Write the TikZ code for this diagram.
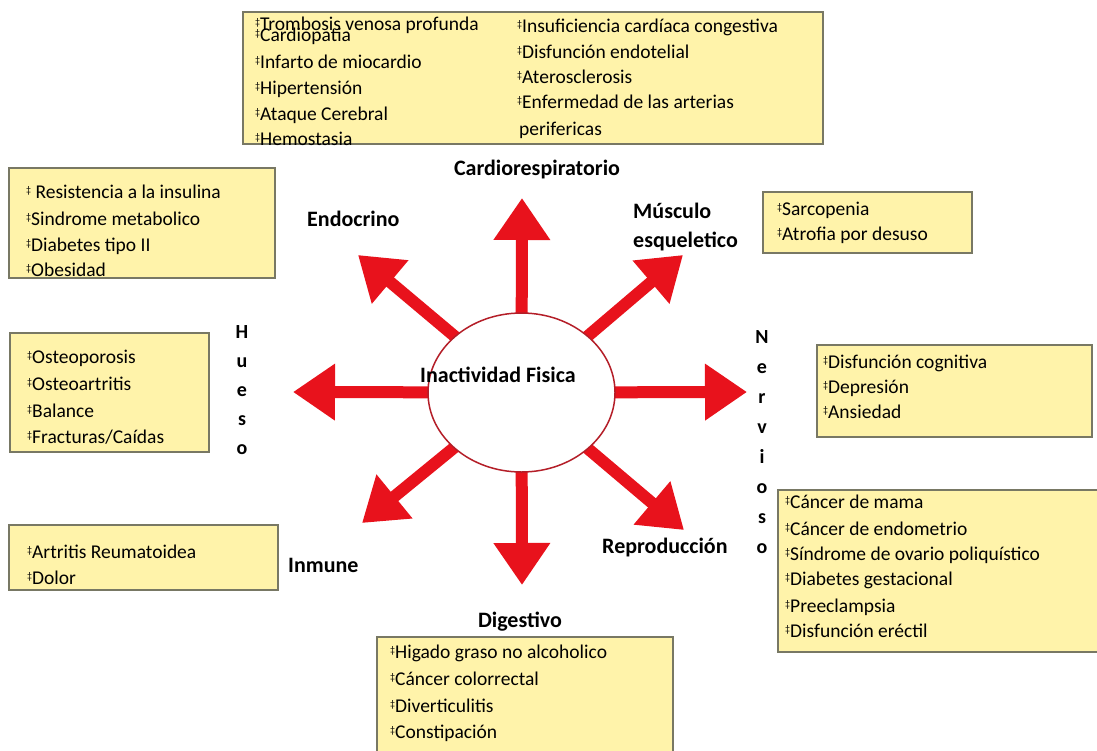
\documentclass[tikz,border=0pt]{standalone}
\usepackage{fontspec}
\setmainfont{Carlito}
\usetikzlibrary{arrows.meta,shapes.geometric}
\definecolor{boxfill}{RGB}{255,243,170}
\definecolor{boxline}{RGB}{120,120,100}
\definecolor{arrowred}{RGB}{232,18,28}
\definecolor{ellline}{RGB}{180,30,40}
\newcommand{\dg}{\raisebox{4.5pt}{\fontsize{10}{10}\selectfont ‡}}
\pgfdeclarelayer{bg}
\pgfsetlayers{bg,main}
\begin{document}
\begin{tikzpicture}[x=1pt,y=-1pt,
  box/.style={draw=boxline, fill=boxfill, line width=1.5pt, rectangle, inner sep=0pt},
  item/.style={anchor=base west, inner sep=0pt, font=\fontsize{19.5}{23}\selectfont},
  lbl/.style={inner sep=0pt, font=\fontsize{22}{26}\selectfont\bfseries},
  vlet/.style={anchor=base, inner sep=0pt, font=\fontsize{20}{24}\selectfont\bfseries},
  ray/.style={draw=arrowred, line width=12pt, shorten <=-8pt, -{Triangle[width=54pt,length=42pt]}},
]
\useasboundingbox (0,0) rectangle (1097,750);

% boxes
\node[box, minimum width=580pt, minimum height=132pt] (cardbox) at (533,78) {};
\node[box, minimum width=266pt, minimum height=110pt] (endobox) at (142,223) {};
\node[box, minimum width=209pt, minimum height=61pt] (musbox) at (867.5,222.5) {};
\node[box, minimum width=199pt, minimum height=119pt] (huebox) at (109.5,392.5) {};
\node[box, minimum width=275pt, minimum height=92pt] (nerbox) at (954.5,391) {};
\node[box, minimum width=324pt, minimum height=162pt] (repbox) at (940,571) {};
\node[box, minimum width=269pt, minimum height=65pt] (inmbox) at (143.5,557.5) {};
\node[box, minimum width=296pt, minimum height=117pt] (digbox) at (525,695.5) {};

% centre
\node[ellipse, draw=ellline, line width=1.5pt, fill=white, minimum width=187pt, minimum height=159pt, inner sep=0pt] (core) at (521.5,392.5) {};
\node[lbl, anchor=base west] (lcore) at (420,382) {Inactividad Fisica};

\coordinate (tN) at (522,198);
\coordinate (tS) at (522,585);
\coordinate (tW) at (293,392);
\coordinate (tE) at (747,392);
\coordinate (tNW) at (358,255);
\coordinate (tNE) at (683,255);
\coordinate (tSW) at (362,523);
\coordinate (tSE) at (684,530);

\begin{pgfonlayer}{bg}
\fill[white] (0,0) rectangle (1097,750);
\draw[ray] (core) -- (tN);
\draw[ray] (core) -- (tS);
\draw[ray] (core) -- (tW);
\draw[ray] (core) -- (tE);
\draw[ray] (core) -- (tNW);
\draw[ray] (core) -- (tNE);
\draw[ray] (core) -- (tSW);
\draw[ray] (core) -- (tSE);
\end{pgfonlayer}

% labels
\node[lbl, anchor=base] (lcard) at (537,175) {Cardiorespiratorio};
\node[lbl, anchor=base west] (lendo) at (307,226) {Endocrino};
\node[lbl, anchor=base west] (lmus1) at (633,218) {Músculo};
\node[lbl, anchor=base west] (lmus2) at (633,247) {esqueletico};
\node[lbl, anchor=base west] (lrep) at (602,553) {Reproducción};
\node[lbl, anchor=base west] (linm) at (288,572) {Inmune};
\node[lbl, anchor=base] (ldig) at (520,627) {Digestivo};

\foreach \ch [count=\i from 0] in {H,u,e,s,o}
  \node[vlet] (hue\i) at (242,{338+29*\i}) {\ch};
\foreach \ch [count=\i from 0] in {N,e,r,v,i,o,s,o}
  \node[vlet] (ner\i) at (762,{343+30*\i}) {\ch};

% cardiorespiratorio items
\node[item] (c1) at (255,30) {\dg Trombosis venosa profunda};
\node[item] (c2) at (255,41) {\dg Cardiopatia};
\node[item] (c3) at (255,68) {\dg Infarto de miocardio};
\node[item] (c4) at (255,94) {\dg Hipertensión};
\node[item] (c5) at (255,120) {\dg Ataque Cerebral};
\node[item] (c6) at (255,145) {\dg Hemostasia};
\node[item] (c7) at (517,32) {\dg Insuficiencia cardíaca congestiva};
\node[item] (c8) at (517,58) {\dg Disfunción endotelial};
\node[item] (c9) at (517,83) {\dg Aterosclerosis};
\node[item] (c10) at (517,108) {\dg Enfermedad de las arterias};
\node[item] (c11) at (519,135) {perifericas};

% endocrino items
\node[item] (e1) at (26,198) {\dg\ Resistencia a la insulina};
\node[item] (e2) at (26,225) {\dg Sindrome metabolico};
\node[item] (e3) at (26,251) {\dg Diabetes tipo II};
\node[item] (e4) at (26,276) {\dg Obesidad};

% musculo items
\node[item] (m1) at (777,215) {\dg Sarcopenia};
\node[item] (m2) at (777,240) {\dg Atrofia por desuso};

% hueso items
\node[item] (h1) at (27,363) {\dg Osteoporosis};
\node[item] (h2) at (27,390) {\dg Osteoartritis};
\node[item] (h3) at (27,417) {\dg Balance};
\node[item] (h4) at (27,443) {\dg Fracturas/Caídas};

% nervioso items
\node[item] (n1) at (823,368) {\dg Disfunción cognitiva};
\node[item] (n2) at (823,393) {\dg Depresión};
\node[item] (n3) at (823,418) {\dg Ansiedad};

% reproduccion items
\node[item] (r1) at (785,508) {\dg Cáncer de mama};
\node[item] (r2) at (785,535) {\dg Cáncer de endometrio};
\node[item] (r3) at (785,560) {\dg Síndrome de ovario poliquístico};
\node[item] (r4) at (785,585) {\dg Diabetes gestacional};
\node[item] (r5) at (785,612) {\dg Preeclampsia};
\node[item] (r6) at (785,637) {\dg Disfunción eréctil};

% inmune items
\node[item] (i1) at (27,558) {\dg Artritis Reumatoidea};
\node[item] (i2) at (27,584) {\dg Dolor};

% digestivo items
\node[item] (d1) at (390,658) {\dg Higado graso no alcoholico};
\node[item] (d2) at (390,685) {\dg Cáncer colorrectal};
\node[item] (d3) at (390,712) {\dg Diverticulitis};
\node[item] (d4) at (390,738) {\dg Constipación};
\end{tikzpicture}
\end{document}
